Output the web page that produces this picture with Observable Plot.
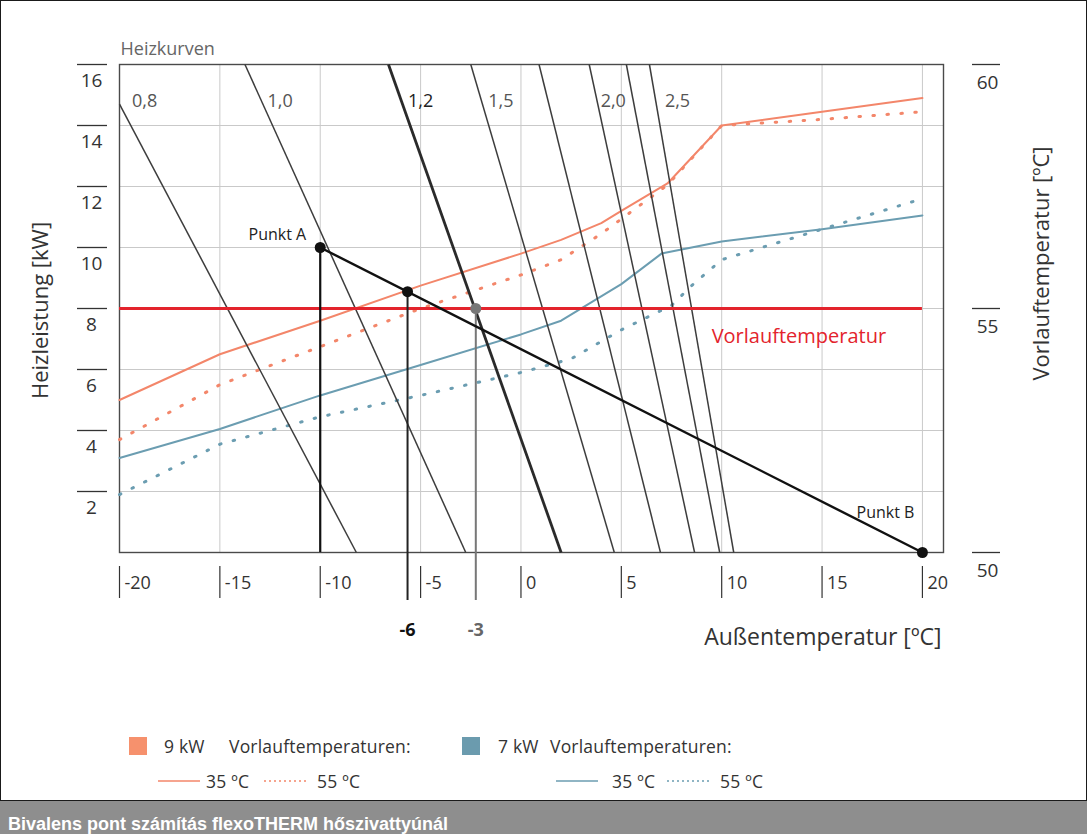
<!DOCTYPE html>
<html>
<head>
<meta charset="utf-8">
<script src="https://cdn.jsdelivr.net/npm/d3@7"></script>
<script src="https://cdn.jsdelivr.net/npm/@observablehq/plot@0.6"></script>
<style>
  body { margin: 0; background: #fff; }
  #wrap { position: relative; width: 1087px; height: 834px; overflow: hidden; font-family: "Open Sans", sans-serif; color: #333; }
  #box { position: absolute; left: 0; top: 0; width: 1085px; height: 799px; border: 1px solid #1a1a1a; }
  #chart { position: absolute; left: 0; top: 0; }
  .lg { position: absolute; font-size: 17.5px; color: #333; white-space: nowrap; line-height: 20px; letter-spacing: 0.2px; }
  .sq { position: absolute; width: 18px; height: 18px; }
  .ln { position: absolute; }
  #caption { position: absolute; left: 0; top: 801px; width: 1087px; height: 40px; background: #8e8e8e; color: #fff;
             font: bold 18px "Liberation Sans", Arial, sans-serif; line-height: 20px; padding: 13px 0 0 8px; box-sizing: border-box; white-space: nowrap; }
  g[aria-label="title"] text { letter-spacing: 0.8px; }
  g[aria-label="punkt"] text { letter-spacing: 0.3px; }
</style>
</head>
<body>
<div id="wrap">
  <div id="box">
    <div id="chart"></div>
    <div id="legend"></div>
  </div>
  <div id="caption"></div>
</div>
<script>
// ---------- data ----------
const xTicks = [-20, -15, -10, -5, 0, 5, 10, 15, 20];
const yTicks = [2, 4, 6, 8, 10, 12, 14, 16];
const rightTicks = [50, 55, 60];            // Vorlauftemperatur [ºC]
const xDomain = [-20, 21.05];
const yDomain = [0, 16];
const rightDomain = [50, 60];

// Heizkurven (straight lines), endpoints in (Außentemperatur, Heizleistung)
const curveX1 = [-20, -13.75, -6.6, -2.5, 0.9, 3.4, 5.25, 6.4];
const curveY1 = [14.7, 16, 16, 16, 16, 16, 16, 16];
const curveX2 = [-8.2, -2.75, 2.0, 4.65, 6.95, 8.65, 9.9, 10.6];
const curveY2 = [0, 0, 0, 0, 0, 0, 0, 0];
const boldCurve = 2;
const curveLabels = ["0,8", "1,0", "1,2", "1,5", "2,0", "2,5"];
const curveLabelX = [-18.75, -12, -5, -1, 4.6, 7.8];
const curveLabelY = 14.8;

// 9 kW, 35 ºC
const x9_35 = [-20, -15, -10, -5, 0, 2, 4, 5, 7.3, 10, 15, 20];
const y9_35 = [5.0, 6.5, 7.6, 8.75, 9.8, 10.25, 10.8, 11.2, 12.1, 14.0, 14.45, 14.9];
// 9 kW, 55 ºC
const x9_55 = [-20, -15, -10, -5, 0, 2, 4, 7.3, 10, 15, 20];
const y9_55 = [3.7, 5.5, 6.75, 8.0, 9.1, 9.6, 10.45, 12.05, 14.0, 14.2, 14.45];
// 7 kW, 35 ºC
const x7_35 = [-20, -15, -10, -5, 0, 2, 5, 7, 10, 15, 20];
const y7_35 = [3.1, 4.05, 5.15, 6.15, 7.15, 7.6, 8.8, 9.8, 10.2, 10.6, 11.05];
// 7 kW, 55 ºC
const x7_55 = [-20, -15, -10, -5, 0, 2.5, 5, 7.5, 8.5, 10, 15, 20];
const y7_55 = [1.9, 3.55, 4.45, 5.15, 5.9, 6.35, 7.3, 8.1, 8.75, 9.6, 10.6, 11.6];

// Vorlauftemperatur line
const vorlaufTemp = 55;
// Punkt A / Punkt B
const keyX = [-10, 20];
const keyY = [10, 0];
const keyLabels = ["Punkt A", "Punkt B"];
// Bivalenzpunkte
const bivX = [-5.65, -2.25];
const bivY = [8.55, 8.0];
const bivLabels = ["-6", "-3"];

// legend
const legendPower = ["9 kW", "7 kW"];
const legendTitle = "Vorlauftemperaturen:";
const legendTemps = ["35 ºC", "55 ºC"];

// ---------- helpers ----------
const toKW = t => (t - rightDomain[0]) / (rightDomain[1] - rightDomain[0]) * (yDomain[1] - yDomain[0]) + yDomain[0];
const zip = (xs, ys) => xs.map((x, i) => ({x, y: ys[i]}));
const curveIdx = d3.range(curveX1.length);
const keyPts = zip(keyX, keyY).map((d, i) => ({...d, label: keyLabels[i]}));
const bivPts = zip(bivX, bivY).map((d, i) => ({...d, label: bivLabels[i]}));

const ORANGE = "#f3866a", BLUE = "#6b9db1", RED = "#e3232c", GRID = "#c9c9c9", DARK = "#3d3d3d";
const FONT = "Open Sans, sans-serif";
const DOTS = "1.5,12.5";

const chart = Plot.plot({
  width: 1085, height: 700,
  marginLeft: 118, marginRight: 143, marginTop: 63, marginBottom: 149,
  x: {domain: xDomain, axis: null},
  y: {domain: yDomain, axis: null},
  style: {fontFamily: FONT, color: "#333", background: "transparent", overflow: "visible"},
  marks: [
    // grid
    Plot.ruleX(xTicks.slice(1), {x: d => d, stroke: GRID, strokeWidth: 1}),
    Plot.ruleY(yTicks.slice(0, -1), {y: d => d, stroke: GRID, strokeWidth: 1}),
    Plot.frame({stroke: "#4a4a4a", strokeWidth: 1.4}),

    // performance curves
    Plot.line(zip(x9_55, y9_55), {x: "x", y: "y", stroke: ORANGE, strokeWidth: 3, strokeDasharray: DOTS, strokeLinecap: "round"}),
    Plot.line(zip(x7_55, y7_55), {x: "x", y: "y", stroke: BLUE, strokeWidth: 3, strokeDasharray: DOTS, strokeLinecap: "round"}),
    Plot.line(zip(x9_35, y9_35), {x: "x", y: "y", stroke: ORANGE, strokeWidth: 2}),
    Plot.line(zip(x7_35, y7_35), {x: "x", y: "y", stroke: BLUE, strokeWidth: 2}),

    // heating curves
    Plot.link(curveIdx.filter(i => i !== boldCurve), {
      x1: i => curveX1[i], y1: i => curveY1[i], x2: i => curveX2[i], y2: i => curveY2[i],
      stroke: DARK, strokeWidth: 1.5
    }),
    Plot.link([boldCurve], {
      x1: i => curveX1[i], y1: i => curveY1[i], x2: i => curveX2[i], y2: i => curveY2[i],
      stroke: "#2a2a2a", strokeWidth: 2.8
    }),
    Plot.text(curveLabels, {
      x: (d, i) => curveLabelX[i], y: () => curveLabelY, text: d => d,
      fontSize: 18, fill: d => d === "1,2" ? "#222" : "#555", fontWeight: d => d === "1,2" ? "bold" : "normal",
      textAnchor: "middle"
    }),

    // Vorlauftemperatur line
    Plot.ruleY([toKW(vorlaufTemp)], {y: d => d, x1: xTicks[0], x2: xTicks[xTicks.length - 1], stroke: RED, strokeWidth: 3}),
    Plot.text(["Vorlauftemperatur"], {x: 9.5, y: toKW(vorlaufTemp) - 0.92, text: d => d, fill: RED, fontSize: 20, textAnchor: "start", ariaLabel: "title"}),

    // drop lines
    Plot.ruleX([keyPts[0]], {x: "x", y1: "y", y2: 0, stroke: "#111", strokeWidth: 2.2}),
    Plot.ruleX([bivPts[0]], {x: "x", y1: "y", y2: 0, stroke: "#222", strokeWidth: 2, insetBottom: -48}),
    Plot.ruleX([bivPts[1]], {x: "x", y1: "y", y2: 0, stroke: "#777", strokeWidth: 2, insetBottom: -48}),

    // Punkt A – Punkt B line
    Plot.line(keyPts, {x: "x", y: "y", stroke: "#111", strokeWidth: 2.4}),
    Plot.dot(keyPts, {x: "x", y: "y", r: 5.5, fill: "#111"}),
    Plot.dot([bivPts[0]], {x: "x", y: "y", r: 5.5, fill: "#111"}),
    Plot.dot([bivPts[1]], {x: "x", y: "y", r: 5.5, fill: "#777"}),
    Plot.text([keyPts[0]], {x: "x", y: "y", text: "label", textAnchor: "end", dx: -14, dy: -13, fontSize: 16, fill: "#222", ariaLabel: "punkt"}),
    Plot.text([keyPts[1]], {x: "x", y: "y", text: "label", textAnchor: "end", dx: -8, dy: -40, fontSize: 16, fill: "#222", ariaLabel: "punkt"}),
    Plot.text(bivPts, {x: "x", text: "label", frameAnchor: "bottom", dy: 83, fontSize: 18, fontWeight: "bold",
      fill: d => d.label === "-6" ? "#111" : "#666"}),

    // left axis
    Plot.axisY(yTicks, {anchor: "left", label: null, tickSize: 30, dx: -12, tickFormat: () => "", stroke: "#333", strokeWidth: 1.3}),
    Plot.text(yTicks, {y: d => d, text: d => String(d), frameAnchor: "left", dx: -28, dy: 16, textAnchor: "middle", fontSize: 19, fill: "#333"}),
    // right axis
    Plot.axisY(rightTicks.map(toKW), {anchor: "right", label: null, tickSize: 28, dx: 28, tickFormat: () => "", stroke: "#333", strokeWidth: 1.3}),
    Plot.text(rightTicks, {y: d => toKW(d), text: d => String(d), frameAnchor: "right", dx: 44, dy: 18, textAnchor: "middle", fontSize: 19, fill: "#333"}),
    // bottom axis
    Plot.axisX(xTicks, {anchor: "bottom", label: null, tickSize: 32, dy: 14, tickFormat: () => "", stroke: "#333", strokeWidth: 1.2}),
    Plot.text(xTicks, {x: d => d, text: d => String(d), frameAnchor: "bottom", dx: 5, dy: 36, textAnchor: "start", fontSize: 18, fill: "#333"}),

    // titles
    Plot.text(["Heizkurven"], {frameAnchor: "top-left", text: d => d, textAnchor: "start", dx: 1, dy: -22, fontSize: 18, fill: "#666"}),
    Plot.text(["Heizleistung [kW]"], {frameAnchor: "left", text: d => d, textAnchor: "middle", rotate: -90, dx: -79, dy: 2, fontSize: 22, fill: "#333", ariaLabel: "title"}),
    Plot.text(["Vorlauftemperatur [ºC]"], {frameAnchor: "right", text: d => d, textAnchor: "middle", rotate: -90, dx: 98, dy: -45, fontSize: 22, fill: "#333", ariaLabel: "title"}),
    Plot.text(["Außentemperatur [ºC]"], {frameAnchor: "bottom-right", text: d => d, textAnchor: "end", dx: -2, dy: 92, fontSize: 23, fill: "#333", ariaLabel: "title"})
  ]
});
document.getElementById("chart").appendChild(chart);

// ---------- legend (HTML below the SVG) ----------
const legendLayout = [
  {color: ORANGE, sq: "#f6916d", square: 128, kw: 163, title: 228, line: 157, t35: 205, dots: 263, t55: 316},
  {color: BLUE,   sq: "#6b9bae", square: 461, kw: 497, title: 549, line: 555, t35: 611, dots: 666, t55: 719}
];
const lg = document.getElementById("legend");
legendLayout.forEach((p, i) => {
  lg.insertAdjacentHTML("beforeend",
    `<div class="sq" style="left:${p.square}px;top:736px;background:${p.sq}"></div>
     <div class="lg" style="left:${p.kw}px;top:735px">${legendPower[i]}</div>
     <div class="lg" style="left:${p.title}px;top:735px">${legendTitle}</div>
     <svg class="ln" style="left:${p.line}px;top:770px" width="42" height="20"><line x1="0" x2="42" y1="10" y2="10" stroke="${p.color}" stroke-width="1.6"/></svg>
     <div class="lg" style="left:${p.t35}px;top:770px">${legendTemps[0]}</div>
     <svg class="ln" style="left:${p.dots}px;top:770px" width="42" height="20"><line x1="0" x2="42" y1="10" y2="10" stroke="${p.color}" stroke-width="1.6" stroke-dasharray="2,3"/></svg>
     <div class="lg" style="left:${p.t55}px;top:770px">${legendTemps[1]}</div>`);
});
document.getElementById("caption").textContent = "Bivalens pont számítás flexoTHERM hőszivattyúnál";
</script>
</body>
</html>
